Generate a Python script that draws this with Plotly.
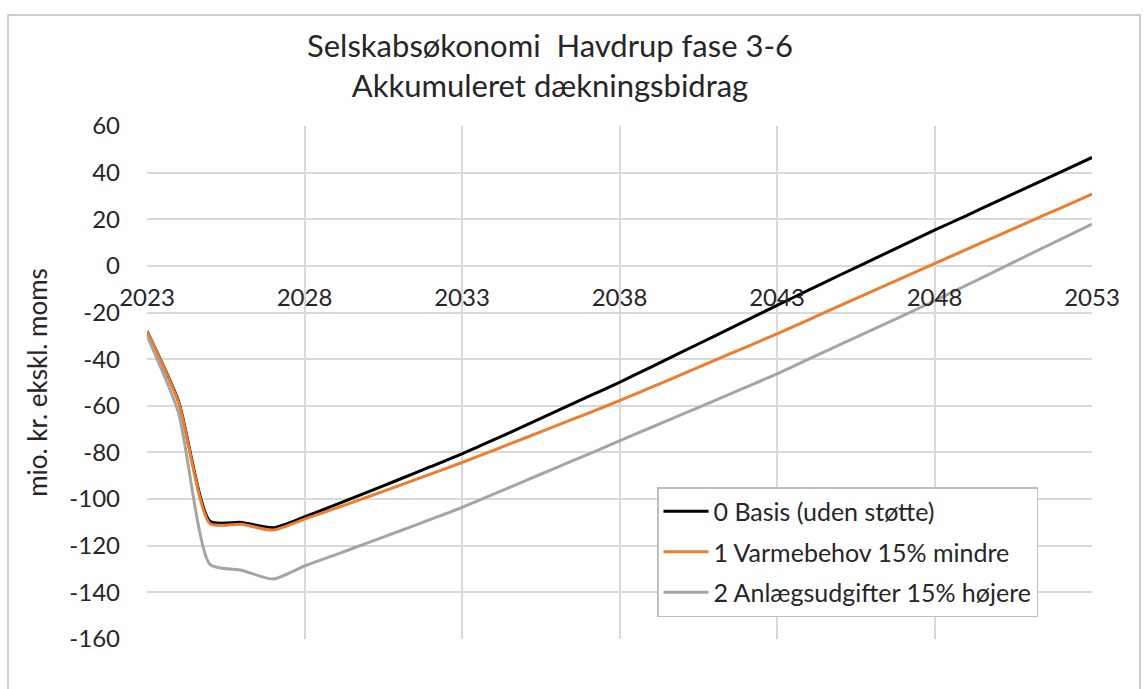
import plotly.graph_objects as go

years = list(range(2023, 2054))

basis = [-28, -58, -109.5, -110, -112.3, -107.6, -102.4, -97.0, -91.6, -86.1,
         -80.6, -74.6, -68.5, -62.3, -56.1, -49.9, -43.4, -36.8, -30.2, -23.6,
         -16.9, -10.4, -3.9, 2.5, 8.9, 15.3, 21.5, 27.8, 34.0, 40.2, 46.5]

varme = [-28, -58.5, -110.5, -110.8, -113.3, -108.6, -103.9, -99.1, -94.2, -89.3,
         -84.3, -79.1, -73.8, -68.5, -63.2, -57.8, -52.1, -46.4, -40.6, -34.9,
         -29.1, -23.1, -17.0, -11.0, -5.0, 1.0, 7.0, 12.9, 18.9, 24.8, 30.8]

anlaeg = [-30, -63, -128, -130.5, -134.3, -128.7, -123.8, -118.8, -113.8, -108.7,
          -103.6, -97.9, -92.2, -86.5, -80.8, -75.0, -69.3, -63.6, -57.9, -52.1,
          -46.3, -40.0, -33.8, -27.5, -21.3, -15.0, -8.4, -1.8, 4.8, 11.4, 17.9]

series_names = ["0 Basis (uden støtte)", "1 Varmebehov 15% mindre", "2 Anlægsudgifter 15% højere"]
series_colors = ["#000000", "#ED7D31", "#A5A5A5"]
x_ticks = [2023, 2028, 2033, 2038, 2043, 2048, 2053]
y_ticks = [60, 40, 20, 0, -20, -40, -60, -80, -100, -120, -140, -160]

FONT = "Lato, 'Noto Sans', sans-serif"
TXT = "#262626"

fig = go.Figure()
for name, vals, col in zip(series_names, [basis, varme, anlaeg], series_colors):
    fig.add_trace(go.Scatter(
        x=years, y=vals, mode="lines", name=name, legendgroup=name,
        line=dict(color=col, width=3, shape="spline", smoothing=0.6),
    ))

ymin, ymax = -160, 60
fig.update_layout(
    width=1148, height=689,
    margin=dict(l=147, r=56, t=126, b=50),
    paper_bgcolor="white", plot_bgcolor="white",
    font=dict(family=FONT, color=TXT, size=24),
    title=dict(
        text="Selskabsøkonomi  Havdrup fase 3-6<br>Akkumuleret dækningsbidrag",
        x=550 / 1148, xanchor="center", xref="container",
        y=1 - 57 / 689, yanchor="top", yref="container",
        font=dict(family=FONT, size=31, color=TXT),
    ),
    xaxis=dict(
        range=[2023, 2053], tickvals=x_ticks, ticktext=[str(t) for t in x_ticks],
        showgrid=True, gridcolor="#D9D9D9", gridwidth=1.5,
        zeroline=False, showline=False, ticks="",
        anchor="free", position=(0 - ymin) / (ymax - ymin),
        ticklabelstandoff=15,
        tickfont=dict(family=FONT, size=24, color=TXT),
    ),
    yaxis=dict(
        range=[ymin, ymax], tickvals=y_ticks, ticktext=[str(t) for t in y_ticks],
        showgrid=True, gridcolor="#D9D9D9", gridwidth=1.5,
        zeroline=False, showline=False, ticks="",
        ticklabelstandoff=26,
        tickfont=dict(family=FONT, size=24, color=TXT),
        title=dict(text="mio. kr. ekskl. moms", standoff=14,
                   font=dict(family=FONT, size=26, color=TXT)),
    ),
    legend=dict(
        x=(657 - 147) / 945, xanchor="left",
        y=(639 - 487) / 513, yanchor="top",
        bgcolor="white", bordercolor="#BFBFBF", borderwidth=1.5,
        font=dict(family=FONT, size=25, color=TXT),
        tracegroupgap=5, itemwidth=45,
    ),
    showlegend=True,
)

# outer chart frame
fig.add_shape(type="rect", xref="paper", yref="paper",
              x0=(8 - 147) / 945, x1=(1140 - 147) / 945,
              y0=(639 - 700) / 513, y1=(639 - 15) / 513,
              line=dict(color="#BFBFBF", width=1.5), layer="below")

fig.write_html("out.html", config={"displayModeBar": False},
               post_script="document.body.style.margin='0';")
